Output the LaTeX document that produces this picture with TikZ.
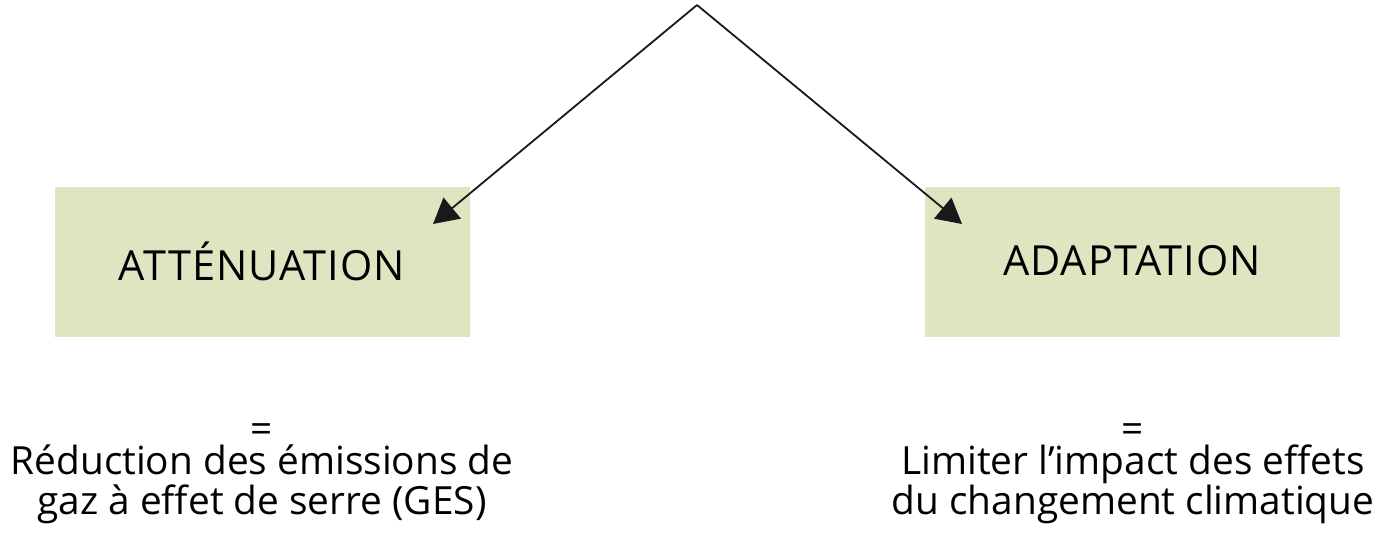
\documentclass[tikz,border=0pt]{standalone}
\usepackage{fontspec}
\setmainfont{Open Sans}
\usetikzlibrary{arrows.meta}
\definecolor{boxfill}{RGB}{224,229,193}
\begin{document}
\begin{tikzpicture}[x=1pt,y=-1pt,
  greenbox/.style={fill=boxfill,draw=none,minimum width=415pt,minimum height=150pt,inner sep=0pt},
  conn/.style={line width=1.8pt,draw=black!90,-{Triangle[length=25pt,width=27pt]}},
  lbl/.style={font=\fontsize{41.5}{42}\selectfont\addfontfeatures{LetterSpace=2.5},anchor=base,inner sep=0pt},
  desc/.style={font=\fontsize{38.8}{40}\selectfont,anchor=base,inner sep=0pt}]
\useasboundingbox (0,0) rectangle (1387,542);
\node[greenbox] (attbox) at (262.5,262) {};
\node[greenbox] (adabox) at (1132,262) {};
\node[lbl] (att) at (262,280) {ATTÉNUATION};
\node[lbl] (ada) at (1132,275) {ADAPTATION};
\coordinate (apex) at (697,5);
\coordinate (ltip) at (433,224);
\coordinate (rtip) at (962,224);
\draw[conn] (apex) -- (ltip);
\draw[conn] (apex) -- (rtip);
\node[desc] (eqL) at (262,442) {=};
\node[desc] (l1) at (262,474) {Réduction des émissions de};
\node[desc] (l2) at (262,514) {gaz à effet de serre (GES)};
\node[desc] (eqR) at (1133,442) {=};
\node[desc] (r1) at (1133,474) {Limiter l’impact des effets};
\node[desc] (r2) at (1133,514) {du changement climatique};
\end{tikzpicture}
\end{document}
